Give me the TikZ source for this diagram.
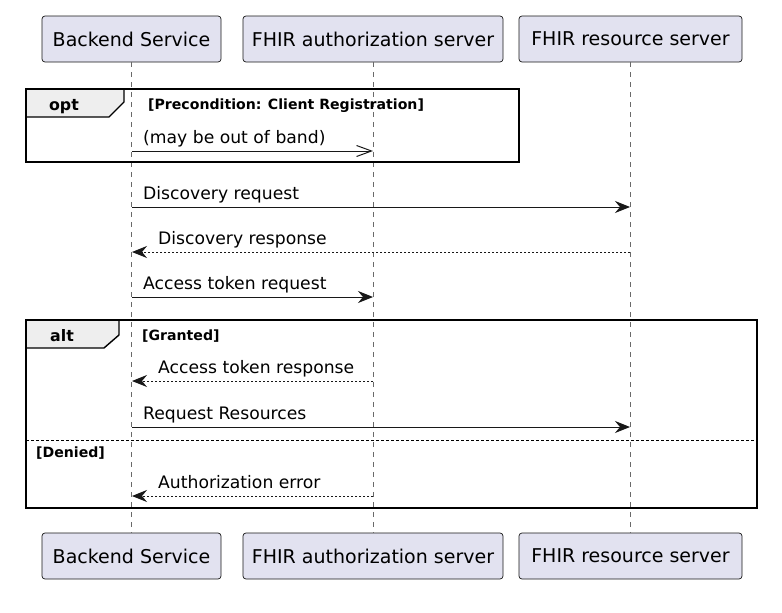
\documentclass[tikz,border=0pt]{standalone}
\usepackage{fontspec}
\setmainfont{DejaVu Sans}
\usetikzlibrary{arrows.meta}
\definecolor{partfill}{HTML}{E2E2F0}
\definecolor{partline}{HTML}{181818}
\definecolor{tabfill}{HTML}{EEEEEE}
\tikzset{
  part/.style={draw=partline, fill=partfill, rounded corners=3pt, line width=0.7pt,
    minimum height=46pt, inner sep=0pt, font=\fontsize{19}{22}\selectfont},
  life/.style={draw=partline!65, dash pattern=on 5pt off 5pt, line width=0.7pt},
  msg/.style={draw=partline, line width=1pt},
  sync/.style={msg, -{Stealth[length=15pt,width=12pt,inset=5pt]}},
  reply/.style={msg, dash pattern=on 2pt off 2pt, -{Stealth[length=15pt,width=12pt,inset=5pt]}},
  async/.style={msg, -{Straight Barb[length=15pt,width=11pt,line width=1pt]}},
  msgtxt/.style={anchor=base west, inner sep=0pt, font=\fontsize{17.2}{20}\selectfont},
  guard/.style={anchor=base west, inner sep=0pt, font=\fontsize{14.1}{16}\selectfont\bfseries},
  frame/.style={draw=black, line width=1.8pt},
  tab/.style={draw=black, fill=tabfill, line width=1.4pt},
  tabtxt/.style={anchor=base, inner sep=0pt, font=\fontsize{15.8}{18}\selectfont\bfseries},
}
\begin{document}
\begin{tikzpicture}[x=1pt, y=-1pt]
\useasboundingbox (0,0) rectangle (782,613);
% participants
\node[part, minimum width=179pt] (b1) at (131.5,39) {Backend Service};
\node[part, minimum width=260pt] (a1) at (373,39) {FHIR authorization server};
\node[part, minimum width=223pt] (r1) at (630.5,39) {FHIR resource server};
\node[part, minimum width=179pt] (b2) at (131.5,556) {Backend Service};
\node[part, minimum width=260pt] (a2) at (373,556) {FHIR authorization server};
\node[part, minimum width=223pt] (r2) at (630.5,556) {FHIR resource server};
% lifelines
\draw[life] (b1.south) -- (b2.north);
\draw[life] (a1.south) -- (a2.north);
\draw[life] (r1.south) -- (r2.north);
% opt frame
\draw[tab] (26,89) -- (124,89) -- (124,102) -- (109,117) -- (26,117) -- cycle;
\draw[frame] (26,89) rectangle (519,162);
\node[tabtxt] (optl) at (64,110) {opt};
\node[guard] (optg) at (148,109) {[Precondition: Client Registration]};
% alt frame
\draw[tab] (26,320) -- (119,320) -- (119,335) -- (104,348) -- (26,348) -- cycle;
\draw[frame] (26,320) rectangle (757,508);
\node[tabtxt] (altl) at (62,341) {alt};
\node[guard] (altg) at (142,340) {[Granted]};
\draw[draw=black, line width=1pt, dash pattern=on 3pt off 2pt] (26,440) -- (757,440);
\node[guard] (deng) at (36,457) {[Denied]};
% message end points
\coordinate (m1s) at (132,151); \coordinate (m1e) at (373,151);
\coordinate (m2s) at (132,207); \coordinate (m2e) at (630,207);
\coordinate (m3s) at (630,252); \coordinate (m3e) at (132,252);
\coordinate (m4s) at (132,297); \coordinate (m4e) at (373,297);
\coordinate (m5s) at (373,381); \coordinate (m5e) at (132,381);
\coordinate (m6s) at (132,427); \coordinate (m6e) at (630,427);
\coordinate (m7s) at (373,496); \coordinate (m7e) at (132,496);
% messages
\draw[async] (m1s) -- (m1e);
\node[msgtxt] (t1) at (143,143) {(may be out of band)};
\draw[sync] (m2s) -- (m2e);
\node[msgtxt] (t2) at (143,199) {Discovery request};
\draw[reply] (m3s) -- (m3e);
\node[msgtxt] (t3) at (158,244) {Discovery response};
\draw[sync] (m4s) -- (m4e);
\node[msgtxt] (t4) at (143,289) {Access token request};
\draw[reply] (m5s) -- (m5e);
\node[msgtxt] (t5) at (158,373) {Access token response};
\draw[sync] (m6s) -- (m6e);
\node[msgtxt] (t6) at (143,419) {Request Resources};
\draw[reply] (m7s) -- (m7e);
\node[msgtxt] (t7) at (158,488) {Authorization error};
\end{tikzpicture}
\end{document}
